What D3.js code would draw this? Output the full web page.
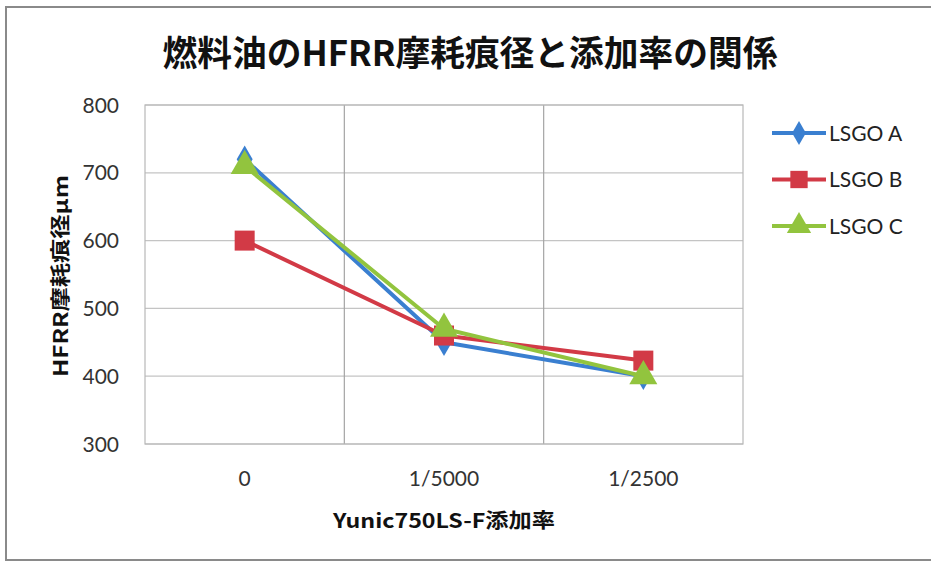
<!DOCTYPE html>
<html>
<head>
<meta charset="utf-8">
<script src="https://cdn.jsdelivr.net/npm/d3@7"></script>
<style>
  body { margin: 0; background: #fff; }
  svg { display: block; }
  .tick-label { font-family: Lato, "Open Sans", sans-serif; font-size: 21px; fill: #333; }
  .axis-title { font-family: "Noto Sans CJK JP", sans-serif; font-weight: bold; font-size: 20px; fill: #111; }
</style>
</head>
<body>
<svg id="chart" width="931" height="562"></svg>
<script>
const categories = ["0", "1/5000", "1/2500"];
const seriesNames = ["LSGO A", "LSGO B", "LSGO C"];
const lsgoA = [720, 450, 400];
const lsgoB = [600, 460, 423];
const lsgoC = [710, 470, 400];
const yTicks = [300, 400, 500, 600, 700, 800];

const colors = ["#3a7fd0", "#d23a46", "#92c43e"];
const symbols = [d3.symbolDiamond, d3.symbolSquare, d3.symbolTriangle];
const symbolSizes = [220, 400, 340];

const series = seriesNames.map((name, i) => ({
  name,
  values: [lsgoA, lsgoB, lsgoC][i],
  color: colors[i],
  symbol: symbols[i],
  size: symbolSizes[i]
}));

const svg = d3.select("#chart");

// outer chart frame (right edge is cut off in the scan)
svg.append("path")
  .attr("d", "M960,7 H6 V560 H960")
  .attr("fill", "none")
  .attr("stroke", "#8a8a8a")
  .attr("stroke-width", 2);

const plot = { left: 145, right: 743, top: 105, bottom: 444 };

const x = d3.scaleBand()
  .domain(categories)
  .range([plot.left, plot.right]);

const y = d3.scaleLinear()
  .domain([300, 800])
  .range([plot.bottom, plot.top]);

// horizontal gridlines
svg.append("g")
  .selectAll("line")
  .data(yTicks)
  .join("line")
  .attr("x1", plot.left).attr("x2", plot.right)
  .attr("y1", (d) => y(d)).attr("y2", (d) => y(d))
  .attr("stroke", "#c4c4c4")
  .attr("stroke-width", 1.2);

// vertical gridlines between categories
svg.append("g")
  .selectAll("line")
  .data(categories.slice(1))
  .join("line")
  .attr("x1", (d) => x(d)).attr("x2", (d) => x(d))
  .attr("y1", plot.top).attr("y2", plot.bottom)
  .attr("stroke", "#a4a4a4")
  .attr("stroke-width", 1.2);

svg.append("rect")
  .attr("x", plot.left).attr("y", plot.top)
  .attr("width", plot.right - plot.left)
  .attr("height", plot.bottom - plot.top)
  .attr("fill", "none")
  .attr("stroke", "#b8b8b8")
  .attr("stroke-width", 1.2);

// y tick labels
svg.append("g")
  .selectAll("text")
  .data(yTicks)
  .join("text")
  .attr("class", "tick-label")
  .attr("x", 119)
  .attr("y", (d) => y(d))
  .attr("dy", "0.36em")
  .attr("text-anchor", "end")
  .text((d) => d);

// x tick labels
svg.append("g")
  .selectAll("text")
  .data(categories)
  .join("text")
  .attr("class", "tick-label")
  .attr("x", (d) => x(d) + x.bandwidth() / 2)
  .attr("y", 486)
  .attr("text-anchor", "middle")
  .text((d) => d);

// lines and markers
const cx = (d, i) => x(categories[i]) + x.bandwidth() / 2;
const line = d3.line()
  .x((d, i) => cx(d, i))
  .y((d) => y(d));

series.forEach((s) => {
  svg.append("path")
    .datum(s.values)
    .attr("d", line)
    .attr("fill", "none")
    .attr("stroke", s.color)
    .attr("stroke-width", 4)
    .attr("stroke-linejoin", "round");
});

series.forEach((s) => {
  svg.append("g")
    .selectAll("path")
    .data(s.values)
    .join("path")
    .attr("transform", (d, i) => `translate(${cx(d, i)},${y(d)})`)
    .attr("d", d3.symbol(s.symbol, s.size))
    .attr("fill", s.color);
});

// title
svg.append("text")
  .attr("x", 470)
  .attr("y", 66)
  .attr("text-anchor", "middle")
  .attr("textLength", 615)
  .attr("lengthAdjust", "spacingAndGlyphs")
  .style("font-family", "'Noto Sans CJK JP', sans-serif")
  .style("font-weight", "bold")
  .style("font-size", "35px")
  .style("fill", "#111")
  .text("燃料油のHFRR摩耗痕径と添加率の関係");

// axis titles
svg.append("text")
  .attr("class", "axis-title")
  .attr("x", 444)
  .attr("y", 528)
  .attr("text-anchor", "middle")
  .attr("textLength", 222)
  .attr("lengthAdjust", "spacingAndGlyphs")
  .text("Yunic750LS-F添加率");

svg.append("text")
  .attr("class", "axis-title")
  .attr("transform", "translate(68,276) rotate(-90)")
  .attr("text-anchor", "middle")
  .attr("textLength", 202)
  .attr("lengthAdjust", "spacingAndGlyphs")
  .text("HFRR摩耗痕径μm");

// legend
const legend = svg.append("g")
  .selectAll("g")
  .data(series)
  .join("g")
  .attr("transform", (d, i) => `translate(772,${133 + i * 46.5})`);

legend.append("line")
  .attr("x1", 0).attr("x2", 54)
  .attr("stroke", (d) => d.color)
  .attr("stroke-width", 4);

legend.append("path")
  .attr("transform", "translate(27,0)")
  .attr("d", (d) => d3.symbol(d.symbol, d.size * 0.75)())
  .attr("fill", (d) => d.color);

legend.append("text")
  .attr("class", "tick-label")
  .attr("x", 57)
  .attr("dy", "0.36em")
  .style("fill", "#222")
  .text((d) => d.name);
</script>
</body>
</html>
